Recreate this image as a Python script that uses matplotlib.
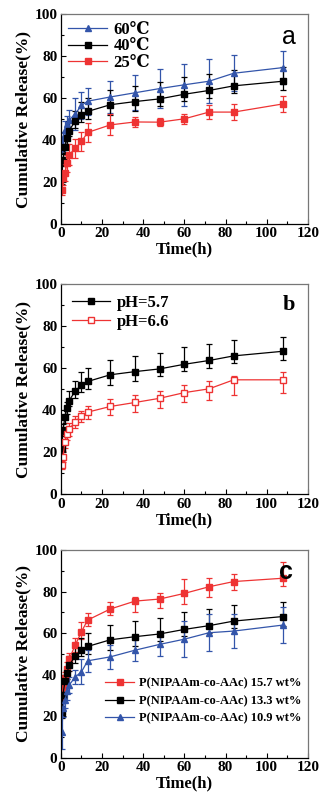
import matplotlib
matplotlib.use("Agg")
import matplotlib.pyplot as plt
from matplotlib.ticker import MultipleLocator
import numpy as np

plt.rcParams['font.family'] = ['Liberation Serif', 'DejaVu Serif']
plt.rcParams['font.weight'] = 'bold'

time = [0.5, 1, 2, 3, 4, 7, 10, 13, 24, 36, 48, 60, 72, 84, 108]

# Panel a (temperature)
t60 = [36, 41, 45, 47.5, 49.5, 52.5, 56.5, 58.5, 60.5, 62.5, 64.5, 66.3, 68.0, 71.8, 74.5]
t60_err = [2, 3, 4, 4, 5, 7.5, 6.5, 6.5, 7.5, 8.3, 9.2, 10, 10.5, 8.5, 8]
t40 = [22, 30.5, 36.9, 40.9, 44.5, 49.1, 51.8, 53.6, 56.8, 58.3, 59.6, 61.8, 63.6, 65.8, 68.0]
t40_lo = [3, 3, 3, 3, 2.8, 3.5, 3.0, 3.6, 4.7, 4.3, 3.6, 3.3, 3.5, 3.5, 4.4]
t40_hi = [3, 3, 3, 3, 4.5, 4.9, 6.1, 6.3, 7.1, 7.5, 7.8, 8.2, 7.9, 7.6, 7.0]
t25 = [16.2, 21.8, 24.5, 28.9, 32.9, 36.1, 39.3, 43.6, 47.2, 48.6, 48.5, 50.1, 53.3, 53.3, 57.2]
t25_err = [2.5, 3, 4, 4, 5, 4.5, 4.5, 4.5, 5, 2.5, 2, 2.5, 3.5, 4, 3.8]

# Panel b (pH)
ph57 = t40
ph66 = [13.8, 17.8, 25.0, 28.6, 30.8, 34.5, 37.2, 39.0, 41.7, 43.6, 45.6, 48.3, 50.1, 54.4, 54.4]
ph66_lo = [2, 2.5, 3, 3, 3, 3.2, 3.0, 3.2, 4.0, 4.3, 4.7, 4.7, 5.3, 7.4, 6.1]
ph66_hi = [2, 2.5, 3, 3, 3, 2.7, 2.5, 2.7, 3.5, 3.6, 3.7, 3.7, 3.9, 1.6, 3.5]

# Panel c (concentration)
c157 = [29.4, 34.2, 38.2, 43.0, 47.5, 54.3, 60.7, 66.3, 71.6, 75.4, 76.4, 79.1, 82.3, 84.8, 86.4]
c157_lo = [3, 3, 3, 3, 3, 3.5, 3.6, 2.7, 2.9, 5.1, 4.5, 5.3, 4.8, 4.1, 3.7]
c157_hi = [3, 3, 3, 3, 3, 3.5, 4.5, 3.5, 3.5, 2.1, 3.1, 6.9, 4.1, 3.8, 7.7]
c133 = t40
c109 = [12.5, 23.8, 27.8, 32.1, 35.0, 39.0, 41.4, 46.7, 48.6, 51.8, 54.6, 57.1, 60.2, 61.0, 63.9]
c109_err = [8, 4, 4, 4, 4, 3.5, 6, 5.2, 5.6, 5.2, 5.8, 8.6, 9.0, 8.3, 8.6]

fig = plt.figure(figsize=(3.31, 8.02), dpi=100)

positions = [
    [0.184, 0.7207, 0.746, 0.2618],
    [0.184, 0.384, 0.746, 0.2618],
    [0.184, 0.0549, 0.746, 0.2594],
]

RED = '#ee3333'
BLUE = '#3355aa'
BLACK = '#000000'

def style(ax):
    ax.set_xlim(0, 120)
    ax.set_ylim(0, 100)
    ax.xaxis.set_major_locator(MultipleLocator(20))
    ax.xaxis.set_minor_locator(MultipleLocator(10))
    ax.yaxis.set_major_locator(MultipleLocator(20))
    ax.yaxis.set_minor_locator(MultipleLocator(10))
    ax.tick_params(which='both', direction='in', top=False, right=False,
                   labelsize=11, width=0.8, pad=2.5)
    ax.tick_params(which='major', length=3.5)
    ax.tick_params(which='minor', length=2)
    for lab in ax.get_xticklabels() + ax.get_yticklabels():
        lab.set_fontweight('bold')
    for s in ['top', 'right']:
        ax.spines[s].set_color('#777777')
    for s in ['bottom', 'left']:
        ax.spines[s].set_color('black')
    for s in ax.spines.values():
        s.set_linewidth(0.9)
    ax.set_xlabel('Time(h)', fontsize=12, fontweight='bold', labelpad=1)
    ax.set_ylabel('Cumulative Release(%)', fontsize=12.5, fontweight='bold', labelpad=2)

def series(ax, y, err, color, marker, label, mfc=None):
    c = ax.errorbar(time, y, yerr=err, color=color, marker=marker, markersize=5,
                    markerfacecolor=mfc if mfc else color, markeredgecolor=color,
                    linewidth=0.9, elinewidth=0.9, capsize=2.5, capthick=0.9, label=label)
    return c[0]

# Panel a
ax = fig.add_axes(positions[0])
h1 = series(ax, t60, t60_err, BLUE, '^', '60℃')
h2 = series(ax, t40, [t40_lo, t40_hi], BLACK, 's', '40℃')
h3 = series(ax, t25, t25_err, RED, 's', '25℃')
style(ax)
ax.legend([h1, h2, h3], ['60℃', '40℃', '25℃'], loc='upper left', frameon=False,
          handlelength=2.3, handletextpad=0.4, labelspacing=0.05, borderaxespad=0.05,
          prop={'family': ['Liberation Serif', 'DejaVu Serif'], 'weight': 'bold', 'size': 12})
ax.text(0.95, 0.95, 'a', transform=ax.transAxes, ha='right', va='top',
        fontsize=18, family='Liberation Sans', fontweight='normal')

# Panel b
ax = fig.add_axes(positions[1])
h1 = series(ax, ph57, [t40_lo, t40_hi], BLACK, 's', 'pH=5.7')
h2 = series(ax, ph66, [ph66_lo, ph66_hi], RED, 's', 'pH=6.6', mfc='white')
style(ax)
ax.legend([h1, h2], ['pH=5.7', 'pH=6.6'], loc='upper left', frameon=False, handlelength=2.3,
          handletextpad=0.4, labelspacing=0.2, borderaxespad=0.25,
          prop={'family': 'Liberation Serif', 'weight': 'bold', 'size': 12})
ax.text(0.95, 0.95, 'b', transform=ax.transAxes, ha='right', va='top',
        fontsize=16, family='Liberation Serif', fontweight='bold')

# Panel c
ax = fig.add_axes(positions[2])
h1 = series(ax, c157, [c157_lo, c157_hi], RED, 's', 'P(NIPAAm-co-AAc) 15.7 wt%')
h2 = series(ax, c133, [t40_lo, t40_hi], BLACK, 's', 'P(NIPAAm-co-AAc) 13.3 wt%')
h3 = series(ax, c109, c109_err, BLUE, '^', 'P(NIPAAm-co-AAc) 10.9 wt%')
style(ax)
ax.legend([h1, h2, h3], ['P(NIPAAm-co-AAc) 15.7 wt%', 'P(NIPAAm-co-AAc) 13.3 wt%',
                         'P(NIPAAm-co-AAc) 10.9 wt%'],
          loc='lower right', bbox_to_anchor=(1.0, 0.13), frameon=False, handlelength=2.3,
          handletextpad=0.4, labelspacing=0.45, borderaxespad=0.1,
          prop={'family': 'Liberation Serif', 'weight': 'bold', 'size': 9})
ax.text(0.94, 0.95, 'c', transform=ax.transAxes, ha='right', va='top',
        fontsize=18, family='Liberation Sans', fontweight='bold')

fig.savefig('out.png', dpi=100)
